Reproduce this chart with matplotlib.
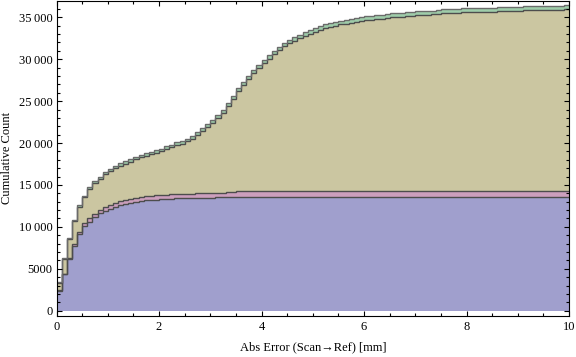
import numpy as np
import matplotlib
matplotlib.use('Agg')
import matplotlib.pyplot as plt
from matplotlib.ticker import MultipleLocator

plt.rcParams['font.family'] = ['Liberation Serif', 'DejaVu Serif']

# Гістограма: 100 бінів по 0.1 мм від 0 до 10
bin_edges = np.linspace(0, 10, 101)

# Кумулятивні лічильники для кожного шару (знизу вгору)
blue_cum = [
    2350, 4340, 6130, 7720, 9110, 10100, 10640, 11180, 11620, 11930,
    12190, 12430, 12610, 12770, 12880, 12970, 13080, 13160, 13220, 13260,
    13290, 13340, 13370, 13400, 13420, 13430, 13440, 13460, 13480, 13490,
    13500, 13510, 13520, 13530, 13540, 13560, 13565, 13570, 13575, 13580,
    13585, 13585, 13590, 13590, 13590, 13595, 13595, 13595, 13600, 13600,
    13600, 13600, 13600, 13600, 13600, 13600, 13605, 13605, 13605, 13605,
    13605, 13605, 13610, 13610, 13610, 13610, 13610, 13610, 13610, 13610,
    13615, 13615, 13615, 13615, 13615, 13615, 13615, 13615, 13615, 13615,
    13620, 13620, 13620, 13620, 13620, 13620, 13620, 13620, 13620, 13620,
    13620, 13620, 13620, 13620, 13620, 13620, 13620, 13620, 13620, 13620,
]
pink_cum = [
    60, 70, 100, 260, 300, 360, 380, 400, 430, 440,
    460, 470, 475, 480, 480, 485, 490, 490, 495, 500,
    505, 510, 510, 515, 520, 520, 540, 560, 570, 570,
    575, 575, 580, 650, 660, 665, 670, 670, 680, 675,
    675, 675, 675, 675, 675, 675, 675, 675, 670, 675,
    675, 675, 675, 680, 680, 680, 675, 675, 675, 675,
    680, 680, 675, 675, 675, 675, 675, 675, 675, 675,
    675, 675, 675, 675, 675, 675, 675, 675, 675, 680,
    675, 675, 675, 675, 675, 675, 675, 680, 680, 680,
    680, 680, 680, 680, 680, 680, 680, 680, 680, 680,
]
khaki_cum = [
    910, 1760, 2300, 2680, 2980, 3050, 3490, 3640, 3710, 3880,
    4000, 4165, 4235, 4305, 4430, 4610, 4760, 4845, 4965, 5085,
    5235, 5455, 5610, 5860, 5990, 6245, 6560, 6925, 7370, 7835,
    8285, 8870, 9480, 10195, 11080, 11930, 12665, 13375, 14075, 14660,
    15250, 15805, 16305, 16823, 17260, 17642, 17960, 18238, 18555, 18787,
    18985, 19253, 19461, 19604, 19722, 19880, 19958, 20076, 20194, 20272,
    20385, 20455, 20543, 20573, 20661, 20741, 20779, 20809, 20857, 20927,
    20970, 21000, 21048, 21058, 21068, 21206, 21216, 21226, 21234, 21349,
    21359, 21367, 21367, 21377, 21385, 21395, 21465, 21468, 21478, 21478,
    21486, 21536, 21544, 21554, 21554, 21562, 21562, 21572, 21580, 21650,
]
green_cum = [
    100, 120, 140, 160, 180, 200, 210, 220, 230, 240,
    250, 255, 260, 265, 270, 275, 280, 285, 290, 295,
    300, 305, 310, 315, 320, 325, 330, 335, 340, 345,
    350, 355, 360, 365, 370, 375, 380, 385, 390, 395,
    400, 405, 410, 412, 415, 418, 420, 422, 425, 428,
    430, 432, 434, 436, 438, 440, 442, 444, 446, 448,
    450, 450, 452, 452, 454, 454, 456, 456, 458, 458,
    460, 460, 462, 462, 462, 464, 464, 464, 466, 466,
    466, 468, 468, 468, 470, 470, 470, 472, 472, 472,
    474, 474, 476, 476, 476, 478, 478, 478, 480, 480,
]

layer_colors = ['#a09fcd', '#cc9fbd', '#cbc6a1', '#9fcdaa']

y_ticks = [0, 5000, 10000, 15000, 20000, 25000, 30000, 35000]
y_tick_labels = ['0', '5000', '10\u2009000', '15\u2009000', '20\u2009000',
                 '25\u2009000', '30\u2009000', '35\u2009000']
x_ticks = [0, 2, 4, 6, 8, 10]

fig = plt.figure(figsize=(5.76, 3.57), dpi=100)
ax = fig.add_axes([0.0981, 0.1157, 0.8898, 0.8815])

# Складені шари
base = np.zeros(len(blue_cum))
tops = []
for layer, color in zip([blue_cum, pink_cum, khaki_cum, green_cum], layer_colors):
    top = base + np.array(layer)
    ax.stairs(top, bin_edges, baseline=base, fill=True, color=color, lw=0)
    tops.append(top)
    base = top

# Контури шарів
for i, top in enumerate(tops):
    if i == len(tops) - 1:
        ax.stairs(top, bin_edges, baseline=None, color='#6b6b6b', lw=1.0)
    else:
        ax.stairs(top, bin_edges, baseline=None, color='#4d4d4d', lw=1.0)

ax.set_xlim(0, 10)
ax.set_ylim(-597, 36950)
ax.set_xticks(x_ticks)
ax.set_xticklabels([str(t) for t in x_ticks])
ax.set_yticks(y_ticks)
ax.set_yticklabels(y_tick_labels)
ax.xaxis.set_minor_locator(MultipleLocator(0.5))
ax.yaxis.set_minor_locator(MultipleLocator(1000))
ax.tick_params(which='both', direction='in', top=True, right=True,
               labelsize=9, width=0.8, colors='black')
ax.tick_params(which='major', length=3.3)
ax.tick_params(which='minor', length=2.0)
ax.tick_params(axis='y', pad=3)
ax.tick_params(axis='x', pad=4)
for s in ax.spines.values():
    s.set_linewidth(0.8)

ax.set_xlabel('Abs Error (Scan\u2192Ref) [mm]', fontsize=9, labelpad=6)
ax.set_ylabel('Cumulative Count', fontsize=9, labelpad=4)

fig.savefig('out.png', dpi=100)
